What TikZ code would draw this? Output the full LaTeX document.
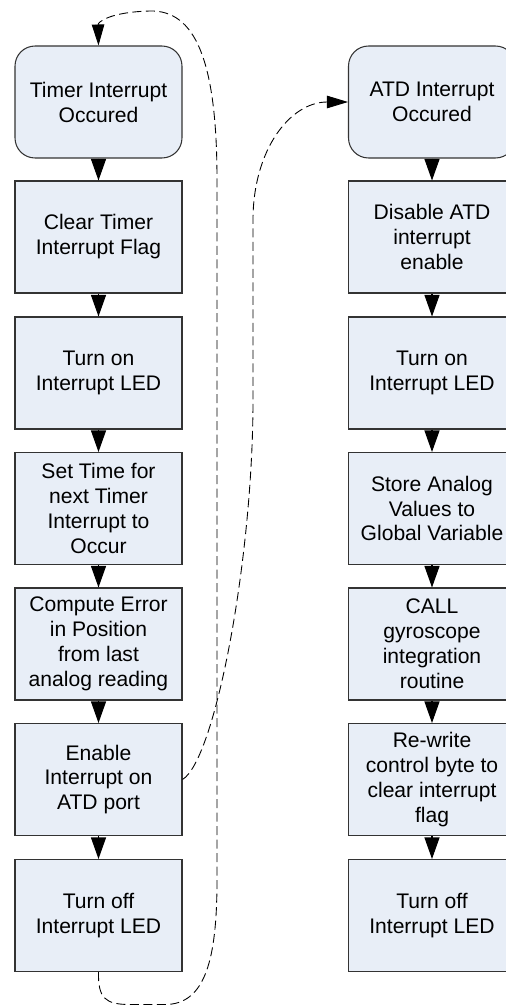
\documentclass[tikz,border=0pt]{standalone}
\usepackage{fontspec}
\setmainfont{Liberation Sans}
\usetikzlibrary{arrows.meta}
\definecolor{boxfill}{HTML}{E8EEF7}
\begin{document}
\begin{tikzpicture}[x=0.02cm,y=0.02cm,
    stepbox/.style={draw=black!80,line width=0.6pt,fill=boxfill,minimum width=3.34cm,minimum height=2.24cm,
      inner sep=0pt,align=center,font=\fontsize{12}{14.2}\selectfont},
    startbox/.style={stepbox,rounded corners=0.4cm},
    flow/.style={-{Triangle[length=0.43cm,width=0.3cm]},line width=0.6pt},
    jump/.style={-{Triangle[length=0.42cm,width=0.25cm]},line width=0.5pt,dash pattern=on 0.18cm off 0.09cm}]
        \useasboundingbox (0,0) rectangle (506,-1008);
        \draw (98.5,-102) node[startbox](l1){Timer Interrupt\\Occured};
        \draw (98.5,-237) node[stepbox](l2){Clear Timer\\Interrupt Flag};
        \draw (98.5,-373) node[stepbox](l3){Turn on\\Interrupt LED};
        \draw (98.5,-508.5) node[stepbox](l4){Set Time for\\next Timer\\Interrupt to\\Occur};
        \draw (98.5,-644) node[stepbox](l5){Compute Error\\in Position\\from last\\analog reading};
        \draw (98.5,-779.5) node[stepbox](l6){Enable\\Interrupt on\\ATD port};
        \draw (98.5,-915.5) node[stepbox](l7){Turn off\\Interrupt LED};
        \draw (432,-102) node[startbox](r1){ATD Interrupt\\Occured};
        \draw (432,-237) node[stepbox](r2){Disable ATD\\interrupt\\enable};
        \draw (432,-373) node[stepbox](r3){Turn on\\Interrupt LED};
        \draw (432,-508.5) node[stepbox](r4){Store Analog\\Values to\\Global Variable};
        \draw (432,-644) node[stepbox](r5){CALL\\gyroscope\\integration\\routine};
        \draw (432,-779.5) node[stepbox](r6){Re-write\\control byte to\\clear interrupt\\flag};
        \draw (432,-915.5) node[stepbox](r7){Turn off\\Interrupt LED};
        \path[every edge/.style={draw,flow}]
          (l1) edge (l2)
          (l2) edge (l3)
          (l3) edge (l4)
          (l4) edge (l5)
          (l5) edge (l6)
          (l6) edge (l7)
          (r1) edge (r2)
          (r2) edge (r3)
          (r3) edge (r4)
          (r4) edge (r5)
          (r5) edge (r6)
          (r6) edge (r7)
        ;
        \draw[jump] (l7.south) .. controls (98,-998) and (105,-1004.5) .. (130,-1004.5) -- (165,-1004.5)
          .. controls (205,-1004.5) and (217,-960) .. (217,-880) -- (217,-180)
          .. controls (217,-60) and (195,-10) .. (150,-11)
          .. controls (110,-12) and (98,-22) .. (l1.north);
        \draw[jump] (l6.east) .. controls (215,-760) and (253,-560) .. (253,-400) -- (253,-220)
          .. controls (253,-150) and (290,-102) .. (r1.west);
      \end{tikzpicture}
\end{document}
